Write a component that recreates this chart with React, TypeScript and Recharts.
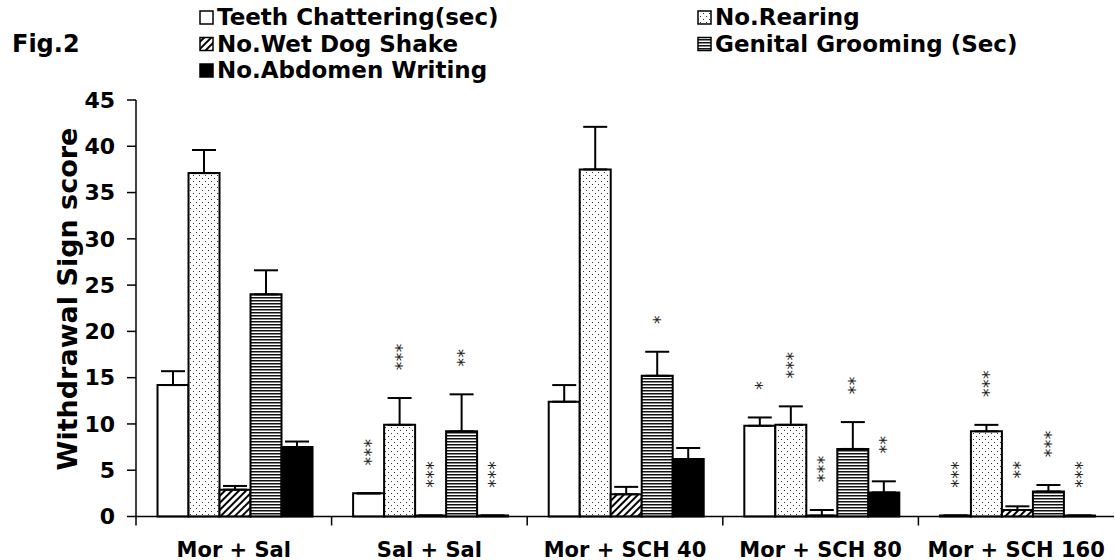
import React from "react"
import { BarChart, Bar, XAxis, YAxis, ErrorBar, LabelList } from "recharts"

const categories = ["Mor + Sal", "Sal + Sal", "Mor + SCH 40", "Mor + SCH 80", "Mor + SCH 160"]

const teeth = [14.2, 2.5, 12.4, 9.8, 0.1]
const teethErr = [1.5, 0, 1.8, 0.9, 0]
const teethSig = ["", "***", "", "*", "***"]

const rearing = [37.1, 9.9, 37.5, 9.9, 9.2]
const rearingErr = [2.5, 2.9, 4.6, 2.0, 0.7]
const rearingSig = ["", "***", "", "***", "***"]

const wetDog = [2.9, 0.1, 2.4, 0.1, 0.7]
const wetDogErr = [0.4, 0, 0.8, 0.6, 0.4]
const wetDogSig = ["", "***", "", "***", "**"]

const grooming = [24.0, 9.2, 15.2, 7.3, 2.7]
const groomingErr = [2.6, 4.0, 2.6, 2.9, 0.7]
const groomingSig = ["", "**", "*", "**", "***"]

const abdomen = [7.5, 0.1, 6.2, 2.6, 0.1]
const abdomenErr = [0.6, 0, 1.2, 1.2, 0]
const abdomenSig = ["", "***", "", "**", "***"]

const yTicks = [0, 5, 10, 15, 20, 25, 30, 35, 40, 45]

const data = categories.map((name, i) => ({
  name,
  teeth: teeth[i],
  teethErr: [0, teethErr[i]],
  rearing: rearing[i],
  rearingErr: [0, rearingErr[i]],
  wetDog: wetDog[i],
  wetDogErr: [0, wetDogErr[i]],
  grooming: grooming[i],
  groomingErr: [0, groomingErr[i]],
  abdomen: abdomen[i],
  abdomenErr: [0, abdomenErr[i]],
}))

const FONT = "'DejaVu Sans', Arial, sans-serif"
const W = 1115
const H = 560
const MARGIN = { top: 100, right: 1, bottom: 0, left: 0 }
const Y_W = 136
const X_H = 43.5
const PLOT_W = W - MARGIN.left - MARGIN.right - Y_W
const PLOT_H = H - MARGIN.top - MARGIN.bottom - X_H
const BAND = PLOT_W / categories.length
const PX_PER_UNIT = PLOT_H / 45
const STAR_FS = 17

function starLabel(sig: string[], err: number[]) {
  return (props: any) => {
    const vb = props.viewBox || props
    const idx = props.index
    const s = sig[idx]
    if (!s) return null
    const top = Math.min(vb.y, vb.y + vb.height)
    const cx = vb.x + vb.width / 2
    const base = top - err[idx] * PX_PER_UNIT - 28
    return (
      <g>
        {s.split("").map((_, k) => {
          const cy = base - 4 - k * 9
          return (
            <text
              key={k}
              x={cx}
              y={cy + STAR_FS * 0.55}
              textAnchor="middle"
              fontSize={STAR_FS}
              fontFamily={FONT}
              fill="#222"
              transform={`rotate(90, ${cx}, ${cy})`}
            >
              *
            </text>
          )
        })}
      </g>
    )
  }
}

const XTick = (props: any) => {
  const { x, y, payload } = props
  return (
    <g>
      <line x1={x - BAND / 2} x2={x - BAND / 2} y1={y} y2={y + 9} stroke="#000" strokeWidth={1.5} />
      <text x={x} y={y + 40} textAnchor="middle" fontSize={21} fontWeight="bold" fontFamily={FONT} fill="#000">
        {payload.value}
      </text>
    </g>
  )
}

function Patterns({ p }: { p: string }) {
  return (
    <defs>
      <pattern id={`${p}dots`} patternUnits="userSpaceOnUse" width={6} height={6}>
        <rect width={6} height={6} fill="#fff" />
        <rect x={1} y={1} width={1} height={1} fill="#333" />
        <rect x={4} y={4} width={1} height={1} fill="#333" />
      </pattern>
      <pattern id={`${p}hatch`} patternUnits="userSpaceOnUse" width={5} height={5} patternTransform="rotate(45)">
        <rect width={5} height={5} fill="#fff" />
        <rect x={0} y={0} width={2} height={5} fill="#000" />
      </pattern>
      <pattern id={`${p}stripes`} patternUnits="userSpaceOnUse" width={4} height={3}>
        <rect width={4} height={3} fill="#fff" />
        <rect x={0} y={0} width={4} height={1.5} fill="#111" />
      </pattern>
    </defs>
  )
}

const legendItems = [
  { label: "Teeth Chattering(sec)", fill: "#fff", x: 200, row: 0 },
  { label: "No.Rearing", fill: "url(#lgdots)", x: 698, row: 0 },
  { label: "No.Wet Dog Shake", fill: "url(#lghatch)", x: 200, row: 1 },
  { label: "Genital Grooming (Sec)", fill: "url(#lgstripes)", x: 698, row: 1 },
  { label: "No.Abdomen Writing", fill: "#000", x: 200, row: 2 },
]
const legendBaselines = [25, 51.5, 78]

export default function App() {
  const series = [
    { key: "teeth", fill: "#fff", sig: teethSig, err: teethErr },
    { key: "rearing", fill: "url(#cdots)", sig: rearingSig, err: rearingErr },
    { key: "wetDog", fill: "url(#chatch)", sig: wetDogSig, err: wetDogErr },
    { key: "grooming", fill: "url(#cstripes)", sig: groomingSig, err: groomingErr },
    { key: "abdomen", fill: "#000", sig: abdomenSig, err: abdomenErr },
  ]
  return (
    <div style={{ position: "absolute", left: 0, top: 0, width: W, height: H, background: "#fff" }}>
      <BarChart width={W} height={H} data={data} margin={MARGIN} barCategoryGap="11%" barGap={0}>
        <Patterns p="c" />
        <XAxis
          dataKey="name"
          height={X_H}
          axisLine={{ stroke: "#000", strokeWidth: 1.5 }}
          tickLine={false}
          tickSize={0}
          tickMargin={0}
          tick={<XTick />}
          interval={0}
        />
        <YAxis
          width={Y_W}
          domain={[0, 45]}
          ticks={yTicks}
          interval={0}
          axisLine={{ stroke: "#000", strokeWidth: 1.5 }}
          tickLine={{ stroke: "#000", strokeWidth: 1.5 }}
          tickSize={9}
          tickMargin={12}
          tick={{ fill: "#000", fontSize: 22, fontWeight: "bold", fontFamily: FONT }}
        />
        {series.map((s) => (
          <Bar key={s.key} dataKey={s.key} fill={s.fill} stroke="#000" strokeWidth={2} isAnimationActive={false}>
            <ErrorBar dataKey={`${s.key}Err`} width={12} stroke="#000" strokeWidth={2} direction="y" />
            <LabelList dataKey={s.key} content={starLabel(s.sig, s.err)} />
          </Bar>
        ))}
      </BarChart>
      <svg width={W} height={H} style={{ position: "absolute", left: 0, top: 0, pointerEvents: "none" }}>
        <Patterns p="lg" />
        <text x={12} y={52} fontSize={24} fontWeight="bold" fontFamily={FONT} fill="#000">
          Fig.2
        </text>
        {legendItems.map((it) => {
          const b = legendBaselines[it.row]
          return (
            <g key={it.label}>
              <rect x={it.x} y={b - 14} width={13} height={13} fill={it.fill} stroke="#000" strokeWidth={1.5} />
              <text x={it.x + 17} y={b} fontSize={23} fontWeight="bold" fontFamily={FONT} fill="#000">
                {it.label}
              </text>
            </g>
          )
        })}
        <text
          x={77}
          y={299}
          textAnchor="middle"
          fontSize={27}
          fontWeight="bold"
          fontFamily={FONT}
          fill="#000"
          transform="rotate(-90, 77, 299)"
        >
          Withdrawal Sign score
        </text>
      </svg>
    </div>
  )
}
